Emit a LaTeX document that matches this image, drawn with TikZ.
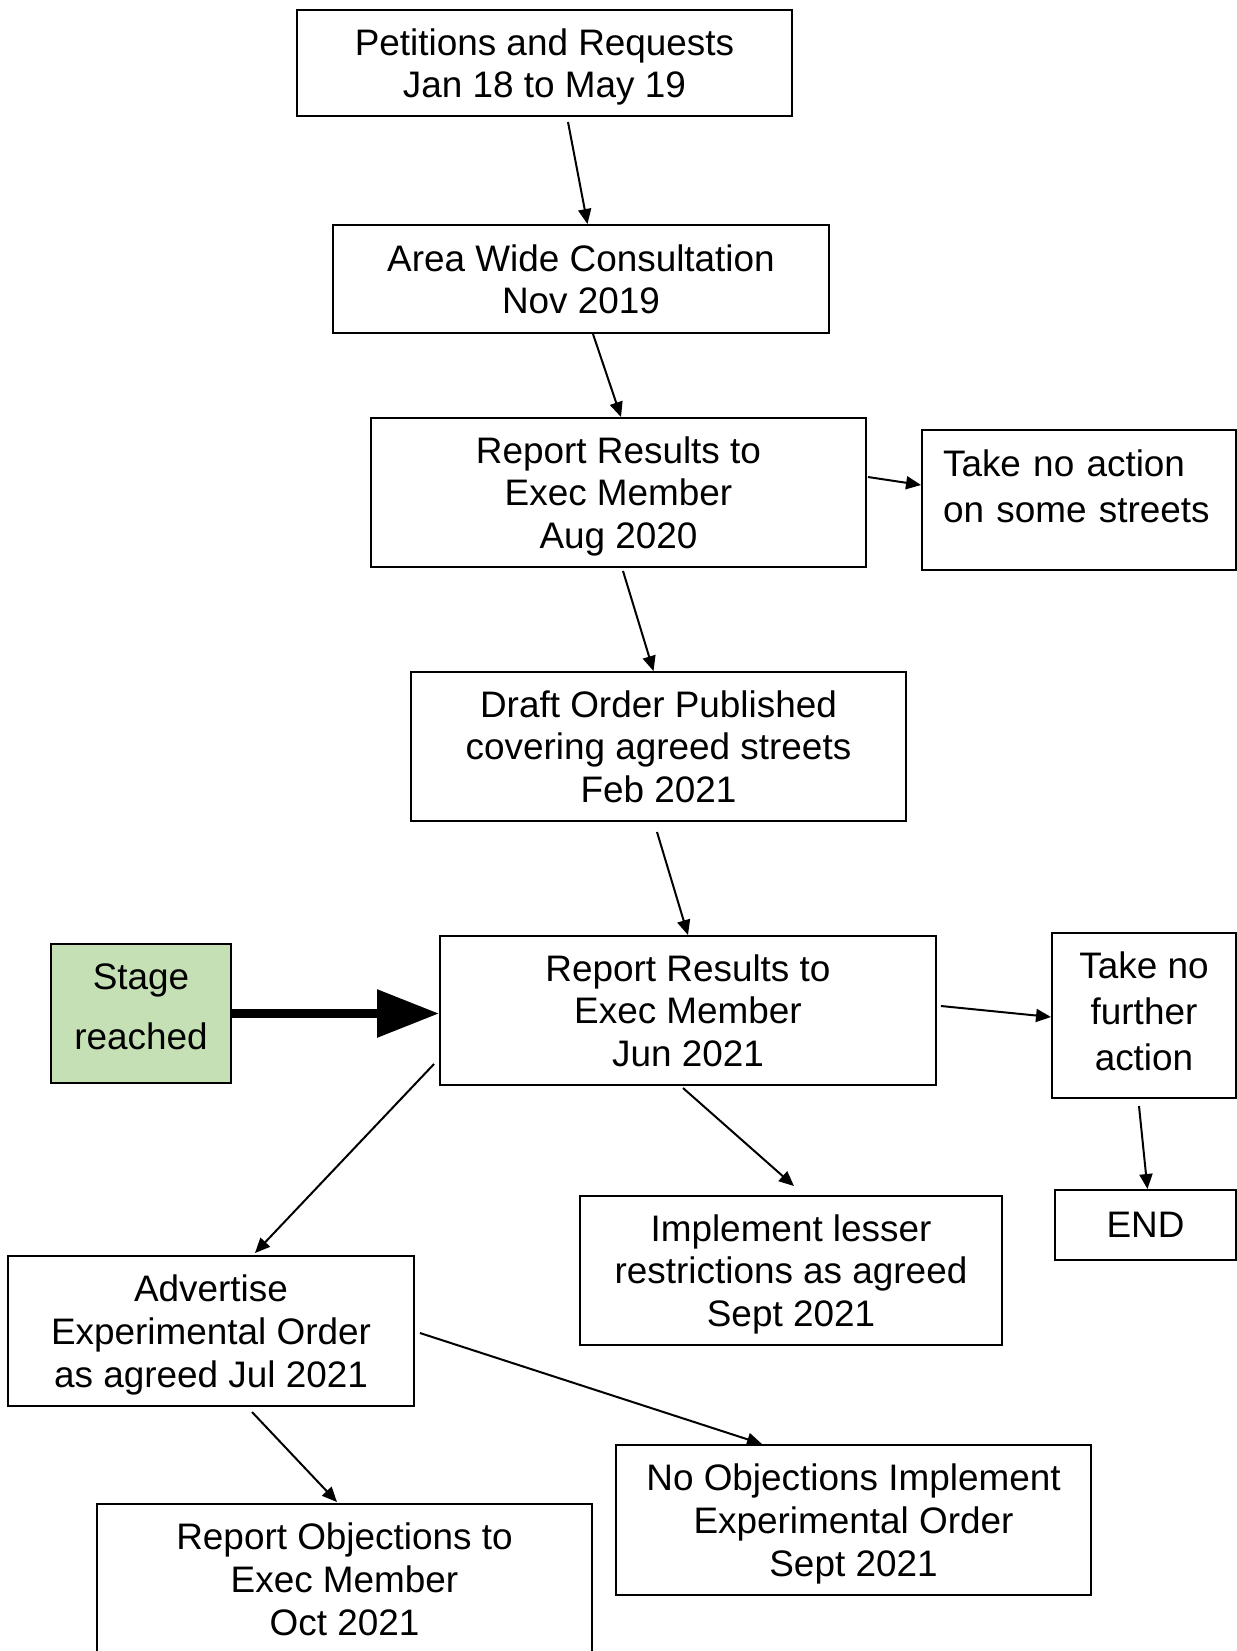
\documentclass[tikz,border=0pt]{standalone}
\usepackage{fontspec}
\setmainfont{Liberation Sans}
\usepackage{tikz}
\usetikzlibrary{arrows.meta}
\definecolor{colorStage}{HTML}{C5E0B4}

\begin{document}
\begin{tikzpicture}[x=0.02cm, y=-0.02cm,
        box/.style 2 args={draw, line width=0.04cm, inner sep=0pt, align=center, text depth=0pt,
            minimum width=#1, minimum height=#2, font=\fontsize{21}{24.3}\selectfont},
        link/.style={line width=0.04cm, -{Triangle[length=0.3cm, width=0.26cm]}}]
    \useasboundingbox (0,0) rectangle (1237,1651);

    % main column
    \node[box={9.9cm}{2.12cm}] (petitions) at (544.5,63) {Petitions and Requests\\Jan 18 to May 19};
    \node[box={9.92cm}{2.16cm}] (consult) at (581,279) {Area Wide Consultation\\Nov 2019};
    \node[box={9.9cm}{2.98cm}] (resultsaug) at (618.5,492.5) {Report Results to\\Exec Member\\Aug 2020};
    \node[box={6.28cm}{2.8cm}, align=left, text width=5.44cm, text depth=1.46cm,
        font=\fontsize{21}{26}\selectfont] (noaction) at (1079,500) {Take no action\\on some streets};
    \node[box={9.9cm}{2.98cm}] (draft) at (658.5,746.5) {Draft Order Published\\covering agreed streets\\Feb 2021};
    \node[box={9.92cm}{2.98cm}] (resultsjun) at (688,1010.5) {Report Results to\\Exec Member\\Jun 2021};

    % where things are now
    \node[box={3.6cm}{2.78cm}, fill=colorStage, text depth=0.28cm] (stage) at (141,1013.5) {Stage\\[0.34cm]reached};

    % outcomes of the June report
    \node[box={3.68cm}{3.3cm}, text depth=0.18cm,
        font=\fontsize{21}{26}\selectfont] (nofurther) at (1144,1015.5) {Take no\\further\\action};
    \node[box={3.62cm}{1.4cm}] (endbox) at (1145.5,1225) {END};
    \node[box={8.44cm}{2.98cm}] (lesser) at (791,1270.5) {Implement lesser\\restrictions as agreed\\Sept 2021};
    \node[box={8.12cm}{3cm}] (advertise) at (211,1331) {Advertise\\Experimental Order\\as agreed Jul 2021};
    \node[box={9.5cm}{3cm}] (noobjections) at (853.5,1520) {No Objections Implement\\Experimental Order\\Sept 2021};
    \node[box={9.9cm}{3cm}] (objections) at (344.5,1579) {Report Objections to\\Exec Member\\Oct 2021};

    \draw[link] ([shift={(23.5,5)}]petitions.south) -- ([shift={(6.5,0)}]consult.north);
    \draw[link] ([shift={(12,0)}]consult.south) -- ([shift={(2.5,0)}]resultsaug.north);
    \draw[link] ([shift={(1,-15.5)}]resultsaug.east) -- ([shift={(0,-15)}]noaction.west);
    \draw[link] ([shift={(4.5,3)}]resultsaug.south) -- ([shift={(-5,0)}]draft.north);
    \draw[link] ([shift={(-1.5,10)}]draft.south) -- (resultsjun.north);
    \draw[line width=0.18cm, -{Triangle[length=1.24cm, width=0.92cm]}] (stage.east) -- (stage.east -| resultsjun.west);
    \draw[link] ([shift={(4,-4.5)}]resultsjun.east) -- ([shift={(0,1.5)}]nofurther.west);
    \draw[link] ([shift={(-5,7)}]nofurther.south) -- ([shift={(2,0)}]endbox.north);
    \draw[link] ([shift={(-5,2)}]resultsjun.south) -- ([shift={(3,-9)}]lesser.north);
    \draw[link] ([shift={(-5,-22)}]resultsjun.south west) -- ([shift={(44,-2)}]advertise.north);
    \draw[link] ([shift={(5,2)}]advertise.east) -- ([shift={(-91.5,0)}]noobjections.north);
    \draw[link] ([shift={(41,5)}]advertise.south) -- ([shift={(-7.5,-1)}]objections.north);
\end{tikzpicture}
\end{document}
